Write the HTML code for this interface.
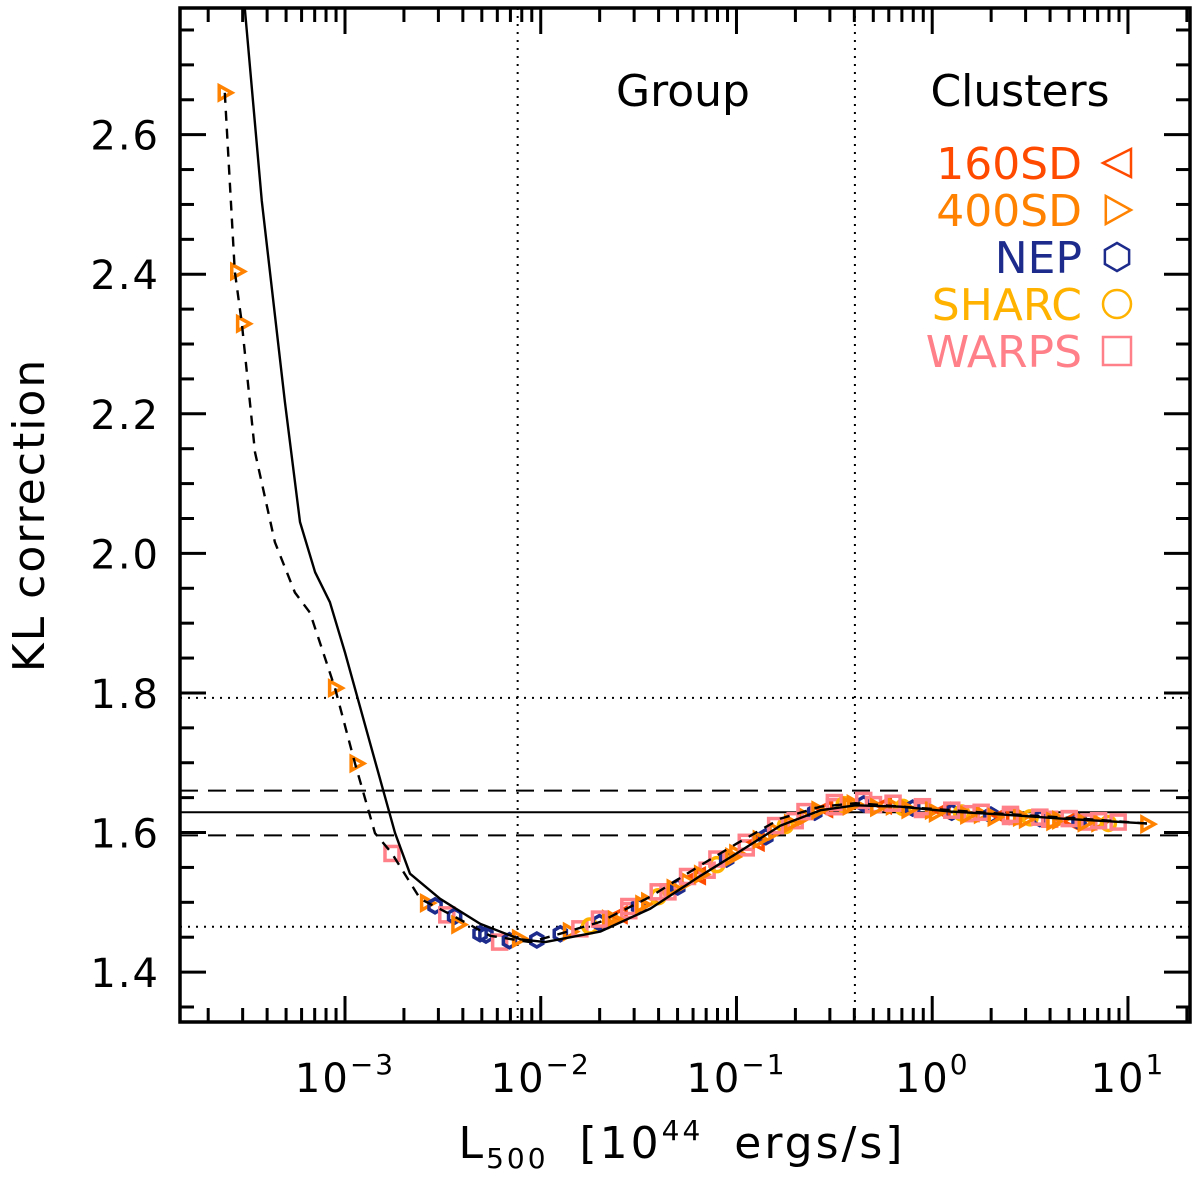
<!DOCTYPE html>
<html><head><meta charset="utf-8"><style>
html,body{margin:0;padding:0;background:#fff;}
svg text{font-family:"DejaVu Sans","Liberation Sans",sans-serif;}
</style></head><body>
<svg id="chart" width="1200" height="1175" viewBox="0 0 1200 1175" xmlns="http://www.w3.org/2000/svg">
<g id="grid"></g>
<g id="markers"></g>
<g id="curves"></g>
<g id="axes"></g>
<text x="683" y="106" font-size="44" text-anchor="middle">Group</text>
<text x="1020" y="106" font-size="44" text-anchor="middle">Clusters</text>
<text transform="translate(44,515) rotate(-90)" font-size="44" text-anchor="middle" letter-spacing="2">KL correction</text>
<text x="682" y="1158" font-size="44" text-anchor="middle" letter-spacing="3" word-spacing="14">L<tspan font-size="28" dy="10">500</tspan><tspan dy="-10"> [10</tspan><tspan font-size="28" dy="-18">44</tspan><tspan dy="18"> ergs/s]</tspan></text>
<g id="legend"></g>
</svg>
<script>
const curveSolidLogL=[-3.55,-3.512,-3.425,-3.307,-3.230,-3.153,-3.077,-3.0,-2.872,-2.744,-2.668,-2.514,-2.309,-2.105,-1.977,-1.696,-1.440,-1.184,-1.0,-0.775,-0.570,-0.391,-0.161,0.095,0.350,0.657,1.097];
const curveSolidKL=[2.86,2.781,2.505,2.217,2.045,1.973,1.930,1.858,1.728,1.599,1.541,1.505,1.469,1.447,1.443,1.458,1.491,1.538,1.570,1.610,1.632,1.639,1.637,1.630,1.626,1.620,1.613];
const curveDashLogL=[-3.614,-3.563,-3.527,-3.460,-3.358,-3.256,-3.179,-3.051,-2.949,-2.847,-2.760,-2.616,-2.463,-2.258,-2.054,-1.900,-1.696,-1.440,-1.184,-1.0,-0.775,-0.570,-0.391,-0.059,0.350,0.760,1.097];
const curveDashKL=[2.660,2.404,2.329,2.145,2.016,1.944,1.915,1.807,1.699,1.599,1.570,1.505,1.483,1.452,1.443,1.455,1.472,1.508,1.553,1.584,1.620,1.637,1.642,1.635,1.627,1.620,1.613];
const hLineKL=[1.793,1.66,1.629,1.596,1.465];
const hLineStyle=["dot","dash","solid","dash","dot"];
const vLineL=[-2.118,-0.395];
// markers: type 0=160SD,1=400SD,2=NEP,3=SHARC,4=WARPS
const mkLogL=[-3.614,-3.55,-3.52,-3.05,-2.94,-2.76,-2.58,-2.54,-2.48,-2.44,-2.42,-2.31,-2.28,-2.21,-2.16,-2.11,-2.02,
-1.90,-1.85,-1.80,-1.75,-1.70,-1.65,-1.60,-1.55,-1.50,-1.45,-1.40,-1.35,-1.30,-1.25,-1.20,-1.15,-1.10,-1.05,-1.00,-0.95,-0.90,-0.85,-0.80,-0.75,-0.70,-0.65,-0.60,-0.55,-0.50,-0.45,-0.40,-0.35,-0.30,-0.25,-0.20,-0.15,-0.10,-0.05,0.00,0.05,0.10,0.15,0.20,0.25,0.30,0.35,0.40,0.45,0.50,0.55,0.60,0.65,0.70,0.75,0.80,0.85,0.90,1.10,
-1.70,-1.55,-1.40,-1.25,-1.10,-0.95,-0.80,-0.65,-0.50,-0.35,-0.20,-0.05,0.10,0.25,0.40,0.55,0.70,0.85,0.95,
-1.62,-1.48,-1.32,-1.18,-1.02,-0.88,-0.72,-0.58,-0.42,-0.28,-0.12,0.02,0.18,0.32,0.48,0.62,0.78];
const mkKL=[2.660,2.404,2.329,1.807,1.699,1.570,1.499,1.495,1.482,1.480,1.468,1.455,1.453,1.443,1.445,1.448,1.446,
1.455,1.458,1.462,1.466,1.471,1.476,1.482,1.488,1.494,1.501,1.508,1.515,1.522,1.530,1.538,1.546,1.554,1.562,1.570,1.578,1.586,1.594,1.602,1.610,1.617,1.623,1.629,1.634,1.637,1.640,1.641,1.641,1.640,1.639,1.638,1.636,1.635,1.633,1.632,1.631,1.629,1.628,1.627,1.626,1.625,1.624,1.623,1.622,1.621,1.620,1.619,1.618,1.617,1.616,1.615,1.614,1.613,1.612,
1.476,1.494,1.515,1.537,1.562,1.586,1.610,1.630,1.643,1.646,1.642,1.637,1.632,1.629,1.626,1.622,1.620,1.617,1.615,
1.475,1.497,1.520,1.540,1.565,1.590,1.613,1.632,1.638,1.636,1.633,1.628,1.625,1.622,1.619,1.616,1.614];
const mkType=[1,1,1,1,1,4,1,2,4,2,1,2,2,4,2,1,2,
2,1,4,3,2,1,0,4,2,1,3,4,2,1,0,4,3,2,1,4,0,2,1,3,4,1,2,0,4,3,1,2,4,0,1,3,2,4,1,0,2,3,4,1,2,0,4,1,3,2,4,1,0,2,4,1,3,1,
4,4,4,4,4,4,4,4,4,4,4,4,4,4,4,4,4,4,4,
1,1,1,1,1,1,1,1,1,1,1,1,1,1,1,1,1];
const legendLabels=["160SD","400SD","NEP","SHARC","WARPS"];
const yTickVals=[1.4,1.6,1.8,2.0,2.2,2.4,2.6];
const yTickLabels=["1.4","1.6","1.8","2.0","2.2","2.4","2.6"];
const xDecades=[-3,-2,-1,0,1];

const colors=["#ff4a00","#ff8200","#1c2b8c","#ffb300","#ff8088"];
const L=180,R=1190,T=8,B=1022;
const xMin=-3.843,xMax=1.317,yMin=1.3285,yMax=2.7815;
const sx=v=>L+(v-xMin)/(xMax-xMin)*(R-L);
const sy=v=>B-(v-yMin)/(yMax-yMin)*(B-T);
const NS="http://www.w3.org/2000/svg";
function mk(tag,attrs,parent){const e=document.createElementNS(NS,tag);for(const k in attrs)e.setAttribute(k,attrs[k]);parent.appendChild(e);return e;}
const grid=document.getElementById('grid'),curves=document.getElementById('curves'),markers=document.getElementById('markers'),axes=document.getElementById('axes'),legend=document.getElementById('legend');
const dashes={dot:"2,6",dash:"18,10",solid:"none"};
hLineKL.forEach((v,i)=>{
  const l=mk('line',{x1:L,x2:R,y1:sy(v),y2:sy(v),stroke:'#000','stroke-width':2,'stroke-dasharray':dashes[hLineStyle[i]]},grid);
  
  
});
vLineL.forEach((v,i)=>{
  const l=mk('line',{x1:sx(v),x2:sx(v),y1:T,y2:B,stroke:'#000','stroke-width':2,'stroke-dasharray':dashes.dot},grid);
  
  
});
const clip=mk('clipPath',{id:'pc'},document.getElementById('chart'));
mk('rect',{x:L,y:T,width:R-L,height:B-T},clip);
function marker(type,cx,cy,s,parent,sw){
  const c=colors[type];let e;
  if(type===0) e=mk('polygon',{points:`${cx-s},${cy} ${cx+s},${cy-s} ${cx+s},${cy+s}`},parent);
  else if(type===1) e=mk('polygon',{points:`${cx+s},${cy} ${cx-s*0.8},${cy-s} ${cx-s*0.8},${cy+s}`},parent);
  else if(type===2){let p=[];for(let k=0;k<6;k++){const a=Math.PI/2+k*Math.PI/3;p.push((cx+s*Math.cos(a))+','+(cy+s*Math.sin(a)));}e=mk('polygon',{points:p.join(' ')},parent);}
  else if(type===3) e=mk('circle',{cx:cx,cy:cy,r:s},parent);
  else e=mk('rect',{x:cx-s,y:cy-s,width:2*s,height:2*s},parent);
  e.setAttribute('fill','none');e.setAttribute('stroke',c);e.setAttribute('stroke-width',sw);
  return e;
}
mkLogL.forEach((v,i)=>{
  const e=marker(mkType[i],sx(v),sy(mkKL[i]),7,markers,3.5);
  
  
});
function path(xs,ys,dash,name){
  const d=xs.map((v,i)=>(i?'L':'M')+sx(v).toFixed(1)+','+sy(ys[i]).toFixed(1)).join(' ');
  const p=mk('path',{d:d,fill:'none',stroke:'#000','stroke-width':2.4,'stroke-dasharray':dash,'clip-path':'url(#pc)','stroke-linejoin':'round'},curves);
  
  
}
path(curveSolidLogL,curveSolidKL,'none','solid-curve');
path(curveDashLogL,curveDashKL,'10,8','dashed-curve');
const fr=mk('rect',{x:L,y:T,width:R-L,height:B-T,fill:'none',stroke:'#000','stroke-width':3.5},axes);


for(let v=1.35;v<2.8;v+=0.05){
  const major=Math.abs(Math.round(v*5)-v*5)<1e-6;
  const len=major?26:14;const y=sy(v);
  if(y<T||y>B)continue;
  mk('line',{x1:L,x2:L+len,y1:y,y2:y,stroke:'#000','stroke-width':3},axes);
  mk('line',{x1:R,x2:R-len,y1:y,y2:y,stroke:'#000','stroke-width':3},axes);
}
yTickVals.forEach((v,i)=>{
  const t=mk('text',{x:160,y:sy(v)+15,'font-size':40,'text-anchor':'end','letter-spacing':2},axes);
  t.textContent=yTickLabels[i];
  
  
});
for(let d=-4;d<=1;d++){for(let m=1;m<10;m++){
  const lv=d+Math.log10(m);const x=sx(lv);if(x<L||x>R)continue;
  const len=m===1?26:14;
  mk('line',{x1:x,x2:x,y1:B,y2:B-len,stroke:'#000','stroke-width':3},axes);
  mk('line',{x1:x,x2:x,y1:T,y2:T+len,stroke:'#000','stroke-width':3},axes);
}}
xDecades.forEach(d=>{
  const t=mk('text',{x:sx(d),y:1092,'font-size':40,'text-anchor':'middle','letter-spacing':2},axes);
  t.textContent='10';
  const ts=mk('tspan',{'font-size':28,dy:-18},t);ts.textContent=(d<0?'\u2212':'')+Math.abs(d);
  
  
});
legendLabels.forEach((lab,i)=>{
  const y=163+i*47;
  const t=mk('text',{x:1082,y:y+16,'font-size':44,'text-anchor':'end',fill:colors[i]},legend);
  t.textContent=lab;
  
  
  const s=marker(i,1117,y,14,legend,2.5);
  
  
});
</script>
</body></html>
